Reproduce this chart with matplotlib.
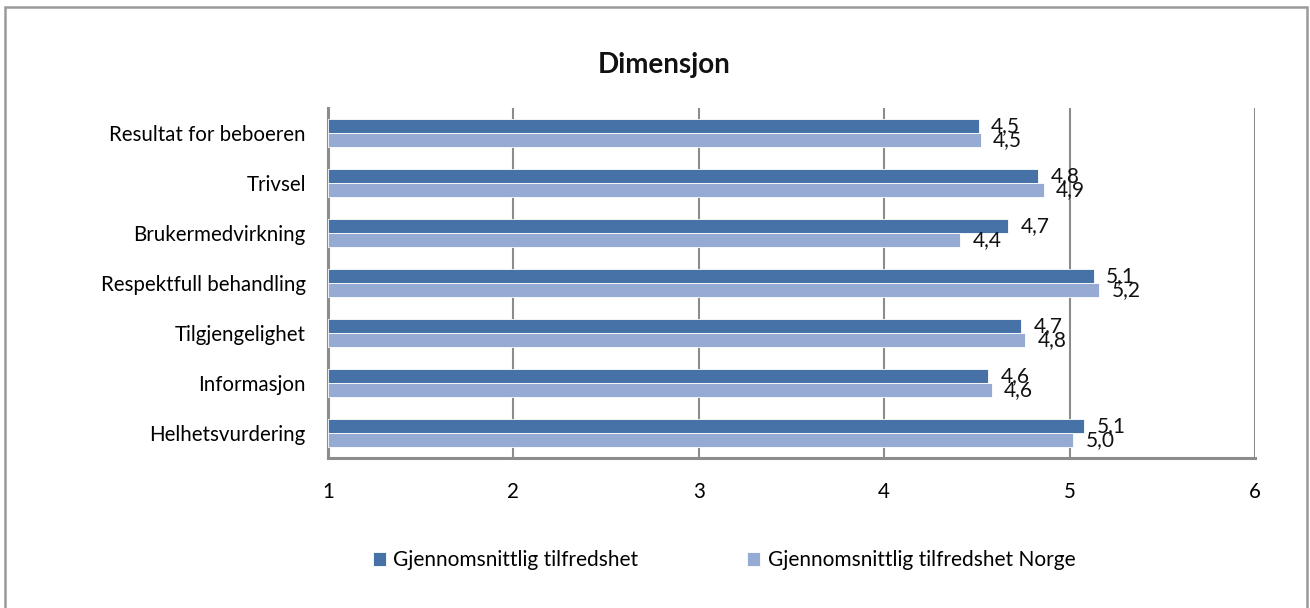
import matplotlib
matplotlib.use("Agg")
import matplotlib.pyplot as plt
from matplotlib.patches import Rectangle
import numpy as np

categories = ["Resultat for beboeren", "Trivsel", "Brukermedvirkning",
              "Respektfull behandling", "Tilgjengelighet", "Informasjon",
              "Helhetsvurdering"]
series_names = ["Gjennomsnittlig tilfredshet", "Gjennomsnittlig tilfredshet Norge"]
values_local = [4.51, 4.83, 4.67, 5.13, 4.74, 4.56, 5.08]
values_norge = [4.52, 4.86, 4.41, 5.16, 4.76, 4.58, 5.02]
xticks = [1, 2, 3, 4, 5, 6]

dark = "#4672A8"
light = "#95ABD3"
font = "Lato"
plt.rcParams['font.family'] = [font, 'DejaVu Sans']

fig = plt.figure(figsize=(13.1, 6.08), dpi=100)
ax = fig.add_axes([328/1310, 1-458/608, (1255-328)/1310, (458-108)/608])

y = np.arange(len(categories))
h = 0.28
b1 = ax.barh(y - h/2, np.array(values_local) - 1, left=1, height=h, color=dark,
             edgecolor="white", linewidth=0.6, label=series_names[0], zorder=3)
b2 = ax.barh(y + h/2, np.array(values_norge) - 1, left=1, height=h, color=light,
             edgecolor="white", linewidth=0.6, label=series_names[1], zorder=3)

for bars, vals in ((b1, values_local), (b2, values_norge)):
    for rect, v in zip(bars, vals):
        ax.annotate(f"{v:.1f}".replace(".", ","),
                    xy=(rect.get_x() + rect.get_width(), rect.get_y() + rect.get_height()/2),
                    xytext=(9, 0), textcoords="offset points",
                    ha="left", va="center", fontsize=15, color="#111111", zorder=4)

ax.set_xlim(1, 6)
ax.set_ylim(len(categories) - 0.5, -0.5)
ax.set_yticks(y)
ax.set_yticklabels(categories, fontsize=14.8)
ax.set_xticks(xticks)
ax.set_xticklabels([str(t) for t in xticks], fontsize=14.8)
ax.tick_params(axis="y", length=0, pad=16)
ax.tick_params(axis="x", length=0, pad=17)
ax.grid(axis="x", color="#8c8c8c", linewidth=1.5, zorder=0)
ax.set_axisbelow(True)
for s in ("top", "right"):
    ax.spines[s].set_visible(False)
for s in ("left", "bottom"):
    ax.spines[s].set_color("#8c8c8c")
    ax.spines[s].set_linewidth(2.2)

fig.text(664/1310, 1-65/608, "Dimensjon", ha="center", va="center",
         fontsize=20, fontweight="bold", color="#111111")

leg = fig.legend(handles=[b1, b2], labels=series_names, loc="center",
                 bbox_to_anchor=(724/1310, 1-560/608), ncol=2, frameon=False,
                 fontsize=15, handlelength=0.65, handleheight=0.65,
                 handletextpad=0.35, columnspacing=5.2)

fig.patches.append(Rectangle((5/1310, -0.02), (1307-5)/1310, 1-7/608+0.02,
                             transform=fig.transFigure, fill=False,
                             edgecolor="#9a9a9a", linewidth=1.8))

fig.savefig("out.png", dpi=100)
